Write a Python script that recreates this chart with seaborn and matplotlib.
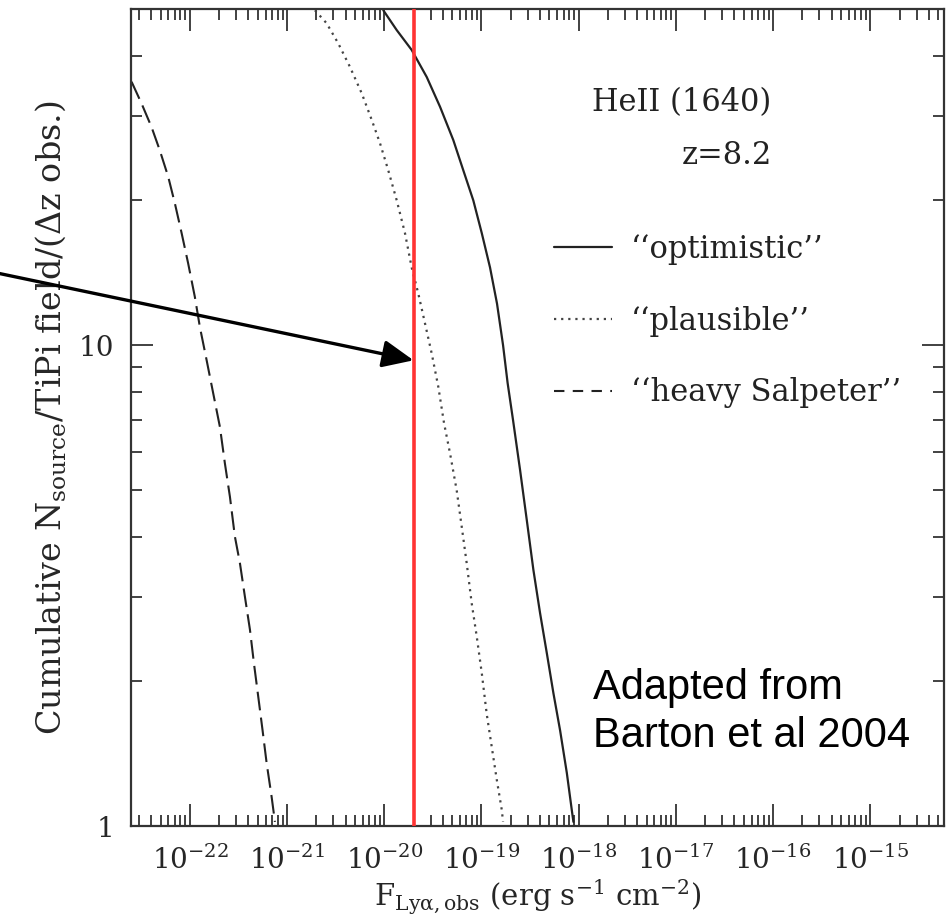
import numpy as np
import pandas as pd
import matplotlib
matplotlib.use("Agg")
import matplotlib.pyplot as plt
import seaborn as sns
from matplotlib.ticker import FixedLocator, FixedFormatter, NullFormatter, LogLocator

# ---------------- data ----------------
opt_flux = [9.772e-21, 1.343e-20, 1.914e-20, 2.735e-20, 3.750e-20, 5.129e-20,
            6.501e-20, 8.241e-20, 1.007e-19, 1.225e-19, 1.445e-19, 1.667e-19,
            1.858e-19, 2.113e-19, 2.495e-19, 2.924e-19, 3.420e-19, 4.009e-19,
            4.699e-19, 5.495e-19, 6.442e-19, 7.551e-19, 8.492e-19, 8.831e-19]
opt_n = [49.7, 45.2, 41.1, 36.1, 31.3, 26.7, 23.1, 20.0, 17.1, 14.5, 12.2, 10.0,
         8.34, 6.98, 5.50, 4.33, 3.41, 2.77, 2.29, 1.89, 1.58, 1.29, 1.08, 1.02]

pla_flux = [1.936e-21, 2.553e-21, 3.365e-21, 4.436e-21, 5.861e-21, 7.430e-21,
            9.036e-21, 1.099e-20, 1.343e-20, 1.633e-20, 1.914e-20, 2.239e-20,
            2.624e-20, 3.076e-20, 3.597e-20, 4.121e-20, 4.753e-20, 5.559e-20,
            6.266e-20, 7.047e-20, 7.943e-20, 8.933e-20, 1.007e-19, 1.132e-19,
            1.276e-19, 1.435e-19, 1.618e-19, 1.667e-19]
pla_n = [49.7, 46.7, 42.4, 37.9, 33.4, 29.4, 26.3, 23.1, 20.0, 17.1, 14.5, 12.8,
         11.1, 9.61, 8.19, 6.88, 5.95, 4.99, 4.19, 3.52, 2.90, 2.48, 2.08, 1.71,
         1.46, 1.25, 1.08, 1.02]

hs_flux = [2.512e-23, 3.184e-23, 4.036e-23, 4.909e-23, 5.984e-23, 7.015e-23,
           8.222e-23, 9.594e-23, 1.125e-22, 1.268e-22, 1.486e-22, 1.738e-22,
           2.037e-22, 2.291e-22, 2.582e-22, 2.904e-22, 3.273e-22, 3.681e-22,
           4.150e-22, 4.560e-22, 5.047e-22, 5.598e-22, 6.166e-22, 6.934e-22,
           7.500e-22]
hs_n = [35.3, 31.8, 28.4, 25.4, 22.4, 19.7, 17.1, 14.8, 12.6, 10.9, 9.31, 7.94,
        6.76, 5.68, 4.84, 4.00, 3.52, 3.00, 2.56, 2.18, 1.86, 1.58, 1.35, 1.15,
        1.02]

model_labels = ["‘‘optimistic’’", "‘‘plausible’’", "‘‘heavy Salpeter’’"]

limit_flux = 2e-20
arrow_tip_n = 9.3

xtick_values = [1e-22, 1e-21, 1e-20, 1e-19, 1e-18, 1e-17, 1e-16, 1e-15]
xtick_labels = [r"$10^{-22}$", r"$10^{-21}$", r"$10^{-20}$", r"$10^{-19}$",
                r"$10^{-18}$", r"$10^{-17}$", r"$10^{-16}$", r"$10^{-15}$"]
ytick_values = [1, 10]
ytick_labels = ["1", "10"]
xlim = (2.48e-23, 5.75e-15)
ylim = (1, 50)

# ---------------- style ----------------
sns.set_theme(style="ticks")
plt.rcParams['font.family'] = ['DejaVu Serif']
plt.rcParams['mathtext.fontset'] = 'dejavuserif'

fig = plt.figure(figsize=(9.46, 9.22), dpi=100)
ax = fig.add_axes([0.1385, 0.1041, 0.8595, 0.8861])
ax.set_xscale('log')
ax.set_yscale('log')

df_opt = pd.DataFrame({"flux": opt_flux, "N": opt_n})
df_pla = pd.DataFrame({"flux": pla_flux, "N": pla_n})
df_hs = pd.DataFrame({"flux": hs_flux, "N": hs_n})

line_col = "#222222"
sns.lineplot(data=df_opt, x="flux", y="N", ax=ax, color=line_col, lw=1.6,
             sort=False, estimator=None, label=model_labels[0])
sns.lineplot(data=df_pla, x="flux", y="N", ax=ax, color="#444444", lw=1.6,
             linestyle=(0, (1, 2.2)), sort=False, estimator=None, label=model_labels[1])
sns.lineplot(data=df_hs, x="flux", y="N", ax=ax, color=line_col, lw=1.5,
             linestyle=(0, (9, 3.5)), sort=False, estimator=None, label=model_labels[2])

ax.axvline(limit_flux, color="#ff3333", lw=2.6, zorder=5)

ax.set_xlim(*xlim)
ax.set_ylim(*ylim)

ax.xaxis.set_major_locator(FixedLocator(xtick_values))
ax.xaxis.set_major_formatter(FixedFormatter(xtick_labels))
ax.xaxis.set_minor_locator(LogLocator(base=10, subs=np.arange(2, 10), numticks=50))
ax.xaxis.set_minor_formatter(NullFormatter())
ax.yaxis.set_major_locator(FixedLocator(ytick_values))
ax.yaxis.set_major_formatter(FixedFormatter(ytick_labels))
ax.yaxis.set_minor_locator(LogLocator(base=10, subs=np.arange(2, 10), numticks=50))
ax.yaxis.set_minor_formatter(NullFormatter())

ax.tick_params(which='both', direction='in', top=True, right=True,
               color='#333333', width=1.3)
ax.tick_params(which='major', length=16, labelsize=20)
ax.tick_params(axis='x', which='major', pad=14)
ax.tick_params(axis='y', which='major', pad=12)
ax.tick_params(which='minor', length=8)
for s in ax.spines.values():
    s.set_color('#333333')
    s.set_linewidth(1.6)

ax.set_xlabel(r"F$_{\mathrm{Ly\alpha,obs}}$ (erg s$^{-1}$ cm$^{-2}$)", fontsize=21, labelpad=2)
ax.set_ylabel(r"Cumulative N$_{\mathrm{source}}$/TiPi field/($\Delta$z obs.)",
              fontsize=24, labelpad=8)

ax.text(0.788, 0.885, "HeII (1640)", transform=ax.transAxes, ha='right',
        va='center', fontsize=22, color='#222222')
ax.text(0.788, 0.821, "z=8.2", transform=ax.transAxes, ha='right',
        va='center', fontsize=22, color='#222222')

leg = ax.legend(loc='upper left', bbox_to_anchor=(0.52, 0.7246), frameon=False,
                fontsize=22, handlelength=1.9, handletextpad=0.62,
                labelspacing=1.33, borderpad=0, borderaxespad=0)
for t in leg.get_texts():
    t.set_color('#222222')
leg.get_lines()[2].set_linestyle((0, (5, 4)))

ax.text(0.568, 0.1395, "Adapted from\nBarton et al 2004", transform=ax.transAxes,
        ha='left', va='center', fontsize=30, family=['Liberation Sans'],
        color='black', linespacing=1.25)

ax.annotate("", xy=(limit_flux, arrow_tip_n), xycoords='data',
            xytext=(-3, 922 - 273), textcoords='figure pixels',
            arrowprops=dict(arrowstyle='-|>,head_length=0.95,head_width=0.42',
                            mutation_scale=20, lw=2.4, color='black',
                            shrinkA=0, shrinkB=0),
            annotation_clip=False, zorder=6)

fig.savefig("out.png", dpi=100)
